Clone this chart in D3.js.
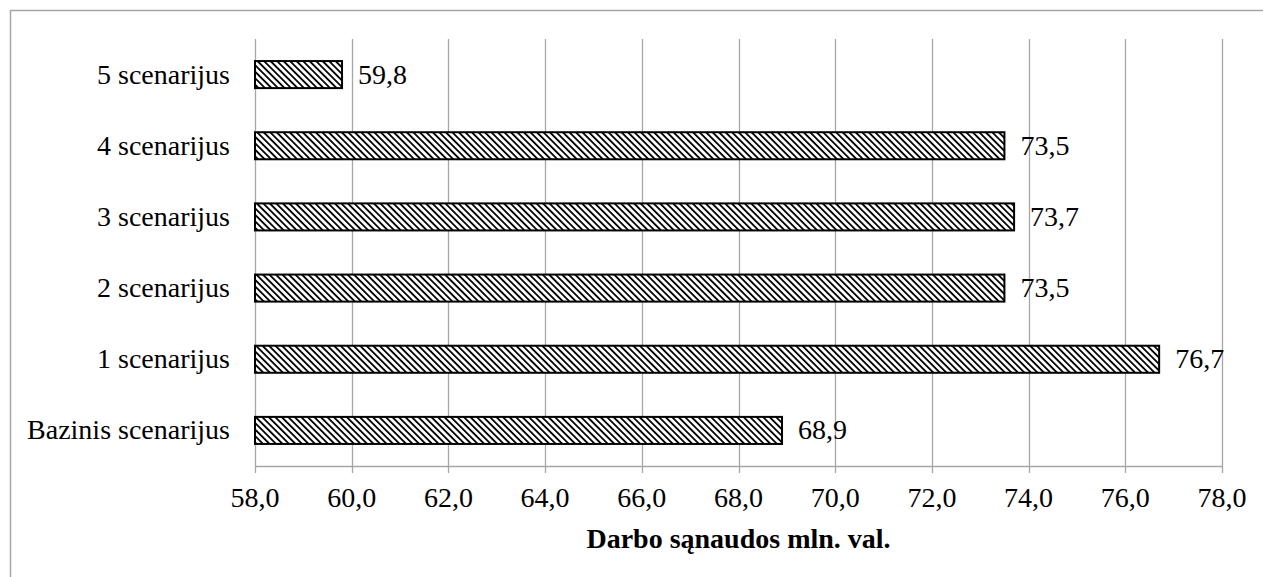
<!DOCTYPE html>
<html>
<head>
<meta charset="utf-8">
<script src="https://cdn.jsdelivr.net/npm/d3@7"></script>
<style>
body{margin:0;background:#fff;}
svg{display:block;}
</style>
</head>
<body>
<div id="chart"></div>
<script>
const categories=["Bazinis scenarijus","1 scenarijus","2 scenarijus","3 scenarijus","4 scenarijus","5 scenarijus"];
const values=[68.9,76.7,73.5,73.7,73.5,59.8];
const ticks=[58,60,62,64,66,68,70,72,74,76,78];
const axisTitle="Darbo sąnaudos mln. val.";

const width=1263,height=577;
const margin={left:255,right:41,top:39,bottom:111};
const fontFam="'Liberation Serif','DejaVu Serif','Times New Roman',serif";
const fs=28;

const svg=d3.select("#chart").append("svg")
    .attr("width",width)
    .attr("height",height)
    .attr("font-family",fontFam);

// hatch pattern
const pat=svg.append("defs").append("pattern")
    .attr("id","hatch")
    .attr("patternUnits","userSpaceOnUse")
    .attr("width",4.6)
    .attr("height",4.6)
    .attr("patternTransform","rotate(-45)");
pat.append("rect").attr("width",4.6).attr("height",4.6).attr("fill","#fff");
pat.append("rect").attr("x",0).attr("y",0).attr("width",1.8).attr("height",4.6).attr("fill","#000");

// outer frame
svg.append("path")
    .attr("d","M10.5,"+height+"V10.5H"+width)
    .attr("fill","none")
    .attr("stroke","#a6a6a6")
    .attr("stroke-width",1.5);

const x=d3.scaleLinear().domain([58,78]).range([margin.left,width-margin.right]);
const y=d3.scaleBand().domain(categories.slice().reverse()).range([margin.top,height-margin.bottom]).paddingInner(0.62).paddingOuter(0.31);

// gridlines
svg.append("g")
    .selectAll("line")
    .data(ticks)
    .join("line")
    .attr("x1",d=>Math.round(x(d))+0.5)
    .attr("x2",d=>Math.round(x(d))+0.5)
    .attr("y1",margin.top)
    .attr("y2",height-margin.bottom+7)
    .attr("stroke","#a6a6a6")
    .attr("stroke-width",1.3);

// x axis line
svg.append("line")
    .attr("x1",margin.left)
    .attr("x2",width-margin.right+1)
    .attr("y1",height-margin.bottom+0.5)
    .attr("y2",height-margin.bottom+0.5)
    .attr("stroke","#a6a6a6")
    .attr("stroke-width",1.3);

svg.append("g")
    .selectAll("text")
    .data(ticks)
    .join("text")
    .attr("x",d=>x(d))
    .attr("y",507)
    .attr("text-anchor","middle")
    .attr("font-size",fs)
    .text(d=>d3.format(".1f")(d).replace(".",","));

svg.append("text")
    .attr("x",(margin.left+width-margin.right)/2)
    .attr("y",548)
    .attr("text-anchor","middle")
    .attr("font-size",fs)
    .attr("font-weight","bold")
    .text(axisTitle);

// bars
svg.append("g")
    .selectAll("rect")
    .data(values)
    .join("rect")
    .attr("x",x(58))
    .attr("y",(d,i)=>y(categories[i]))
    .attr("width",d=>x(d)-x(58))
    .attr("height",y.bandwidth())
    .attr("fill","url(#hatch)")
    .attr("stroke","#000")
    .attr("stroke-width",2);

// value labels
svg.append("g")
    .selectAll("text")
    .data(values)
    .join("text")
    .attr("x",d=>x(d)+16)
    .attr("y",(d,i)=>y(categories[i])+y.bandwidth()/2)
    .attr("dy","0.32em")
    .attr("font-size",fs)
    .attr("fill","#000")
    .text(d=>d3.format(".1f")(d).replace(".",","));

// category labels
svg.append("g")
    .selectAll("text")
    .data(categories)
    .join("text")
    .attr("x",230)
    .attr("y",d=>y(d)+y.bandwidth()/2)
    .attr("dy","0.32em")
    .attr("text-anchor","end")
    .attr("font-size",fs)
    .text(d=>d);
</script>
</body>
</html>
